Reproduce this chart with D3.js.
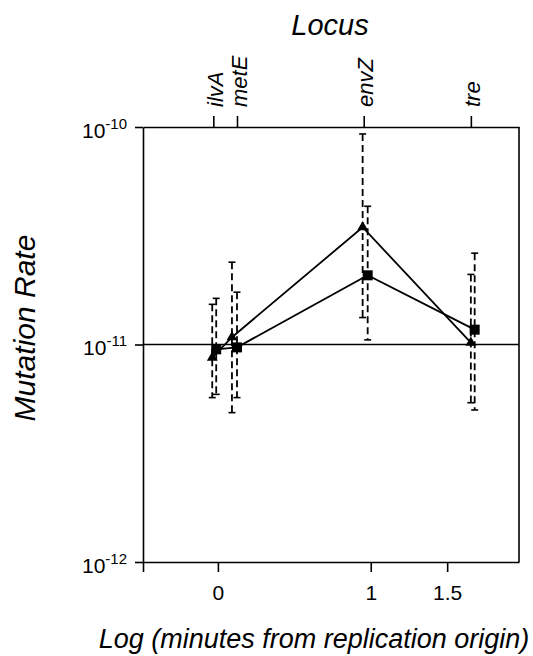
<!DOCTYPE html>
<html>
<head>
<meta charset="utf-8">
<script src="https://cdn.jsdelivr.net/npm/d3@7"></script>
<style>
  html, body { margin: 0; padding: 0; background: #fff; }
  svg text { font-family: "Liberation Sans", Arial, Helvetica, sans-serif; fill: #000; }
</style>
</head>
<body>
<svg id="chart" width="533" height="656"></svg>
<script>
// ---- data ----
const loci = ["ilvA", "metE", "envZ", "tre"];
const locusPos = [-0.03, 0.125, 0.954, 1.655];

const triX = [-0.037, 0.092, 0.947, 1.655];
const triRate = [0.87e-11, 1.08e-11, 3.46e-11, 1.02e-11];
const triLow = [0.57e-11, 0.486e-11, 1.33e-11, 0.54e-11];
const triHigh = [1.53e-11, 2.39e-11, 9.29e-11, 2.10e-11];

const sqX = [-0.011, 0.125, 0.98, 1.68];
const sqRate = [0.95e-11, 0.97e-11, 2.08e-11, 1.17e-11];
const sqLow = [0.59e-11, 0.57e-11, 1.05e-11, 0.50e-11];
const sqHigh = [1.63e-11, 1.74e-11, 4.32e-11, 2.63e-11];

const xTickValues = [-0.49, 0, 1, 1.5];
const xTickLabels = ["", "0", "1", "1.5"];
const yTickValues = [1e-12, 1e-11, 1e-10];
const yTickExponents = ["-12", "-11", "-10"];
const refRate = 1e-11;

// ---- layout ----
const svg = d3.select("#chart");
const pLeft = 143, pRight = 519, pTop = 127, pBottom = 562;

const x = d3.scaleLinear().domain([-0.49, 1.97]).range([pLeft, pRight]);
const y = d3.scaleLog().domain([1e-12, 1e-10]).range([pBottom, pTop]);

const axisStroke = 1.6;

// box right + reference line
svg.append("line").attr("x1", pRight).attr("x2", pRight).attr("y1", pTop).attr("y2", pBottom)
  .attr("stroke", "#000").attr("stroke-width", axisStroke);
svg.append("line").attr("x1", pLeft).attr("x2", pRight).attr("y1", y(refRate)).attr("y2", y(refRate))
  .attr("stroke", "#000").attr("stroke-width", axisStroke);

// bottom axis
const xAxis = svg.append("g").attr("transform", `translate(0,${pBottom})`)
  .call(d3.axisBottom(x).tickValues(xTickValues).tickSize(10).tickSizeOuter(0)
    .tickFormat((d, i) => xTickLabels[i]));
xAxis.selectAll("path, line").attr("stroke", "#000").attr("stroke-width", axisStroke);
xAxis.selectAll("text").attr("font-size", 21).attr("dy", "1.2em");

// left axis
const yAxis = svg.append("g").attr("transform", `translate(${pLeft},0)`)
  .call(d3.axisLeft(y).tickValues(yTickValues).tickSize(8).tickSizeOuter(0).tickFormat(""));
yAxis.selectAll("path, line").attr("stroke", "#000").attr("stroke-width", axisStroke);
yAxis.selectAll(".tick").each(function(d, i) {
  const t = d3.select(this).append("text")
    .attr("x", -16).attr("y", 10).attr("text-anchor", "end").attr("font-size", 21);
  t.append("tspan").text("10");
  t.append("tspan").attr("font-size", 15).attr("dy", -9).text(yTickExponents[i]);
});

// top axis
const topAxis = svg.append("g").attr("transform", `translate(0,${pTop})`)
  .call(d3.axisTop(x).tickValues(locusPos).tickSize(11).tickSizeOuter(0).tickFormat(""));
topAxis.selectAll("path, line").attr("stroke", "#000").attr("stroke-width", axisStroke);
topAxis.selectAll(".tick").append("text")
  .attr("transform", "translate(9,-20) rotate(-90)")
  .attr("text-anchor", "start").attr("font-size", 22).attr("font-style", "italic")
  .text((d, i) => loci[i]);

// error bars
function errorBars(xs, lo, hi) {
  const g = svg.append("g");
  xs.forEach((xv, i) => {
    const cx = x(xv);
    g.append("line").attr("x1", cx).attr("x2", cx).attr("y1", y(hi[i])).attr("y2", y(lo[i]))
      .attr("stroke", "#000").attr("stroke-width", 1.8).attr("stroke-dasharray", "7,4");
    [hi[i], lo[i]].forEach(v => {
      g.append("line").attr("x1", cx - 3.5).attr("x2", cx + 3.5).attr("y1", y(v)).attr("y2", y(v))
        .attr("stroke", "#000").attr("stroke-width", 1.6);
    });
  });
}
errorBars(triX, triLow, triHigh);
errorBars(sqX, sqLow, sqHigh);

// lines
const lineGen = d3.line().x(d => x(d[0])).y(d => y(d[1]));
svg.append("path").datum(d3.zip(triX, triRate)).attr("d", lineGen)
  .attr("fill", "none").attr("stroke", "#000").attr("stroke-width", 1.8);
svg.append("path").datum(d3.zip(sqX, sqRate)).attr("d", lineGen)
  .attr("fill", "none").attr("stroke", "#000").attr("stroke-width", 1.8);

// markers
svg.append("g").selectAll("path").data(d3.zip(triX, triRate)).join("path")
  .attr("transform", d => `translate(${x(d[0])},${y(d[1])})`)
  .attr("d", d3.symbol(d3.symbolTriangle, 50)).attr("fill", "#000");
svg.append("g").selectAll("rect").data(d3.zip(sqX, sqRate)).join("rect")
  .attr("x", d => x(d[0]) - 5).attr("y", d => y(d[1]) - 5)
  .attr("width", 10).attr("height", 10).attr("fill", "#000");

// titles
svg.append("text").attr("x", 330).attr("y", 35).attr("text-anchor", "middle")
  .attr("font-size", 29).attr("font-style", "italic").text("Locus");
svg.append("text").attr("transform", "translate(35,328) rotate(-90)").attr("text-anchor", "middle")
  .attr("font-size", 30).attr("font-style", "italic").text("Mutation Rate");
svg.append("text").attr("x", 314).attr("y", 648).attr("text-anchor", "middle")
  .attr("font-size", 27).attr("font-style", "italic").text("Log (minutes from replication origin)");
</script>
</body>
</html>
